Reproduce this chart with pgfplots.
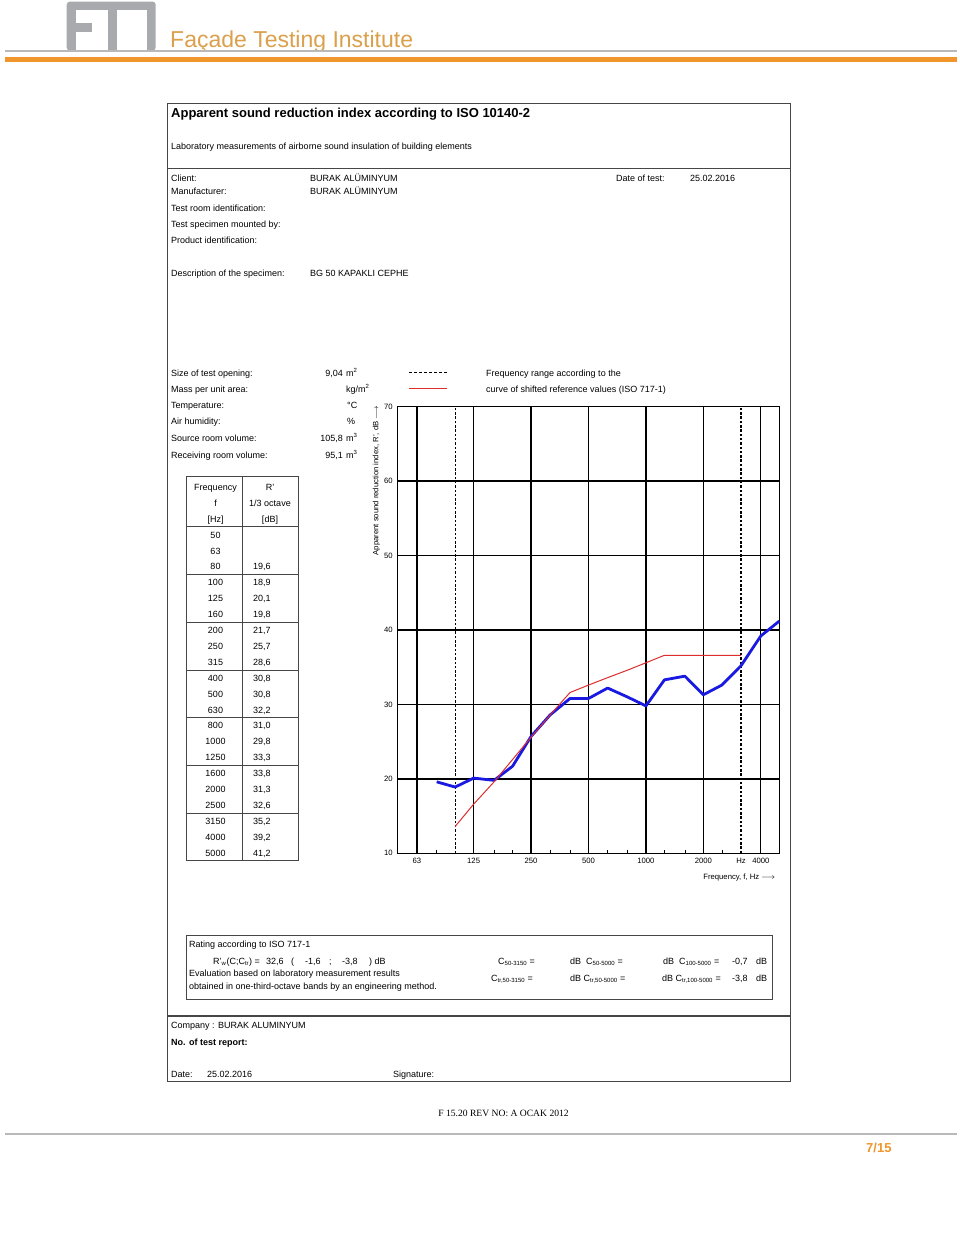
\documentclass[border=0pt]{standalone}
\usepackage{pgfplots}
\pgfplotsset{compat=1.18}
\usepackage{fontspec}
\setmainfont{Liberation Sans}
\newfontfamily\timesfont{Liberation Serif}
\definecolor{fblue}{RGB}{25,25,225}
\definecolor{fred}{RGB}{222,45,45}
\definecolor{forange}{RGB}{240,150,45}
\definecolor{fgold}{RGB}{218,160,75}
\definecolor{lgray}{RGB}{185,185,185}
\definecolor{logogray}{RGB}{168,170,173}
\definecolor{boxgray}{RGB}{70,70,70}
\newcommand\fs[1]{\fontsize{#1}{#1}\selectfont}

\pgfplotstableread{
f    R
80   19.6
100  18.9
125  20.1
160  19.8
200  21.7
250  25.7
315  28.6
400  30.8
500  30.8
630  32.2
800  31.0
1000 29.8
1250 33.3
1600 33.8
2000 31.3
2500 32.6
3150 35.2
4000 39.2
5000 41.2
}\measured

\pgfplotstableread{
f    R
100  13.6
125  16.6
160  19.6
200  22.6
250  25.6
315  28.6
400  31.6
500  32.6
630  33.6
800  34.6
1000 35.6
1250 36.6
1600 36.6
2000 36.6
2500 36.6
3150 36.6
}\reference

\begin{document}
\begin{tikzpicture}[x=1pt,y=1pt]
\fill[white] (0,0) rectangle (960,1233);
\path[use as bounding box] (0,0) rectangle (960,1233);

\begin{scope}[yshift=1233pt, x=1pt, y=-1pt, t/.style={anchor=base west, inner sep=0pt}, r/.style={anchor=base east, inner sep=0pt}, c/.style={anchor=base, inner sep=0pt}]
% ---------- header ----------
\fill[logogray, rounded corners=3pt] (66.7,1.7) rectangle (155.7,50.5);
\fill[white] (75.7,10.3) rectangle (107.7,50.6);
\fill[logogray] (75.5,23.3) rectangle (91.7,31.7);
\fill[white] (116.7,10.3) rectangle (146.7,50.6);
\node[t] at (170,47.5) {\color{fgold}\fs{23}Façade Testing Institute};
\draw[lgray, line width=1.2pt] (5,51) -- (957,51);
\draw[forange, line width=5pt] (5,60) -- (957,60);

% ---------- document frame ----------
\draw[boxgray, line width=1.1pt] (167.3,103.3) rectangle (790.7,1081.5);
\draw[boxgray, line width=1.1pt] (167.3,168.3) -- (790.7,168.3);
\draw[boxgray, line width=1.1pt] (167.3,1016) -- (790.7,1016);

\node[t] at (171,117.5) {\fs{13}\bfseries Apparent sound reduction index according to ISO 10140-2};
\node[t] at (171,149.2) {\fs{9}Laboratory measurements of airborne sound insulation of building elements};

\node[t] at (171,181.2) {\fs{9}Client:};
\node[t] at (171,194.2) {\fs{9}Manufacturer:};
\node[t] at (171,211.2) {\fs{9}Test room identification:};
\node[t] at (171,227.2) {\fs{9}Test specimen mounted by:};
\node[t] at (171,243.2) {\fs{9}Product identification:};
\node[t] at (171,276.2) {\fs{9}Description of the specimen:};
\node[t] at (310,181.2) {\fs{9}BURAK ALÜMINYUM};
\node[t] at (310,194.2) {\fs{9}BURAK ALÜMINYUM};
\node[t] at (310,276.2) {\fs{9}BG 50 KAPAKLI CEPHE};
\node[t] at (616,181.2) {\fs{9}Date of test:};
\node[t] at (690,181.2) {\fs{9}25.02.2016};

\node[t] at (171,376.2) {\fs{9}Size of test opening:};
\node[t] at (171,392.2) {\fs{9}Mass per unit area:};
\node[t] at (171,408.2) {\fs{9}Temperature:};
\node[t] at (171,424.2) {\fs{9}Air humidity:};
\node[t] at (171,441.2) {\fs{9}Source room volume:};
\node[t] at (171,458.2) {\fs{9}Receiving room volume:};
\node[r] at (343,376.2) {\fs{9}9,04};
\node[t] at (346,376.2) {\fs{9}m\textsuperscript{2}};
\node[t] at (346,392.2) {\fs{9}kg/m\textsuperscript{2}};
\node[t] at (347,408.2) {\fs{9}°C};
\node[t] at (347,424.2) {\fs{9}\%};
\node[r] at (343,441.2) {\fs{9}105,8};
\node[t] at (346,441.2) {\fs{9}m\textsuperscript{3}};
\node[r] at (343,458.2) {\fs{9}95,1};
\node[t] at (346,458.2) {\fs{9}m\textsuperscript{3}};

% legend
\draw[black, line width=0.8pt, dash pattern=on 3pt off 2pt] (409,372) -- (447,372);
\draw[fred, line width=1pt] (409,389) -- (447,389);
\node[t] at (486,376.2) {\fs{9}Frequency range according to the};
\node[t] at (486,392.2) {\fs{9}curve of shifted reference values (ISO 717-1)};

% ---------- table ----------
\draw[boxgray, line width=1pt] (186,477) rectangle (298,861);
\draw[boxgray, line width=1pt] (242.3,477) -- (242.3,861);
\foreach \yy in {527,574.8,622.5,670.2,717.9,765.6,813.3}
  \draw[boxgray, line width=1pt] (186,\yy) -- (298,\yy);
\node[c] at (215.5,490.2) {\fs{9}Frequency};
\node[c] at (215.5,506.2) {\fs{9}f};
\node[c] at (215.5,522.2) {\fs{9}[Hz]};
\node[c] at (270,490.2) {\fs{9}R'};
\node[c] at (270,506.2) {\fs{9}1/3 octave};
\node[c] at (270,522.2) {\fs{9}[dB]};
\foreach \f/\v [count=\i from 0] in {50/{},63/{},80/{19,6},100/{18,9},125/{20,1},160/{19,8},200/{21,7},250/{25,7},315/{28,6},400/{30,8},500/{30,8},630/{32,2},800/{31,0},1000/{29,8},1250/{33,3},1600/{33,8},2000/{31,3},2500/{32,6},3150/{35,2},4000/{39,2},5000/{41,2}} {
  \node[c] at (215.5,538.2+15.9*\i) {\fs{9}\f};
  \node[t] at (253,538.2+15.9*\i) {\fs{9}\v};
}

% ---------- rating box ----------
\draw[boxgray, line width=1pt] (186,936) rectangle (772,1000);
\node[t] at (189,947.2) {\fs{9}Rating according to ISO 717-1};
\node[t] at (213,964.2) {\fs{9}R'\textsubscript{w}(C;C\textsubscript{tr}) =};
\node[t] at (266,964.2) {\fs{9}32,6};
\node[t] at (291,964.2) {\fs{9}(};
\node[t] at (305,964.2) {\fs{9}-1,6};
\node[t] at (329,964.2) {\fs{9};};
\node[t] at (342,964.2) {\fs{9}-3,8};
\node[t] at (369,964.2) {\fs{9}) dB};
\node[t] at (189,976.2) {\fs{9}Evaluation based on laboratory measurement results};
\node[t] at (189,989.2) {\fs{9}obtained in one-third-octave bands by an engineering method.};
\node[t] at (498,964.2) {\fs{9}C\textsubscript{50-3150} =};
\node[t] at (570,964.2) {\fs{9}dB\ \ C\textsubscript{50-5000} =};
\node[t] at (663,964.2) {\fs{9}dB\ \ C\textsubscript{100-5000} =};
\node[t] at (732,964.2) {\fs{9}-0,7};
\node[t] at (756,964.2) {\fs{9}dB};
\node[t] at (491,981.2) {\fs{9}C\textsubscript{tr,50-3150} =};
\node[t] at (570,981.2) {\fs{9}dB C\textsubscript{tr,50-5000} =};
\node[t] at (662,981.2) {\fs{9}dB C\textsubscript{tr,100-5000} =};
\node[t] at (732,981.2) {\fs{9}-3,8};
\node[t] at (756,981.2) {\fs{9}dB};

% ---------- bottom of frame ----------
\node[t] at (171,1028.2) {\fs{9}Company : BURAK ALUMINYUM};
\node[t] at (171,1045.2) {\fs{9}\bfseries No. of test report:};
\node[t] at (171,1077.2) {\fs{9}Date:};
\node[t] at (207,1077.2) {\fs{9}25.02.2016};
\node[t] at (393,1077.2) {\fs{9}Signature:};

% ---------- footer ----------
\node[c] at (503.5,1116.5) {\timesfont\fs{9.6}F 15.20 REV NO: A OCAK 2012};
\draw[lgray, line width=1.5pt] (5,1134) -- (957,1134);
\node[t] at (866,1152.7) {\color{forange}\bfseries\fs{13}7/15};
\end{scope}

% ---------- chart ----------
\begin{axis}[
  at={(397.7pt,379.7pt)}, anchor=south west,
  width=381.6pt, height=446.6pt, scale only axis,
  xmode=log, log basis x=10,
  xmin=50, xmax=5000, ymin=10, ymax=70,
  xtick={63,125,250,500,1000,2000,4000},
  xticklabels={63,125,250,500,1000,2000,4000},
  extra x ticks={100,3150},
  extra x tick labels={{},Hz},
  extra x tick style={major grid style={black, line width=1.1pt, dash pattern=on 2.5pt off 1.8pt}},
  minor xtick={80,160,200,315,400,630,800,1250,1600,2500,5000},
  ytick={10,20,30,40,50,60,70},
  yticklabels={10,20,30,40,50,60,70},
  xmajorgrids, ymajorgrids,
  major grid style={black, line width=1.35pt},
  axis line style={black, line width=1.35pt},
  tick style={black, line width=0.6pt},
  major tick length=0pt, minor tick length=3pt,
  xtick pos=bottom, ytick pos=left,
  tick align=inside,
  /pgf/number format/assume math mode=true,
  ticklabel style={font=\fs{7.7}},
  xticklabel style={yshift=-1pt},
  yticklabel style={xshift=-1.5pt},
  every axis y label/.style={at={(axis description cs:-0.056,1.003)}, anchor=east, rotate=90, font=\fs{7.7}, inner sep=0pt},
  every axis x label/.style={at={(axis description cs:1,0)}, anchor=east, xshift=-4pt, yshift=-24pt, font=\fs{7.7}, inner sep=0pt},
  ylabel={Apparent sound reduction index, R', dB $\longrightarrow$},
  xlabel={Frequency, f, Hz $\longrightarrow$},
  clip=false,
]
\addplot[fblue, line width=2.8pt, line join=round] table[x=f, y=R] {\measured};
\addplot[fred, line width=1pt] table[x=f, y=R] {\reference};
\end{axis}
\end{tikzpicture}
\end{document}
